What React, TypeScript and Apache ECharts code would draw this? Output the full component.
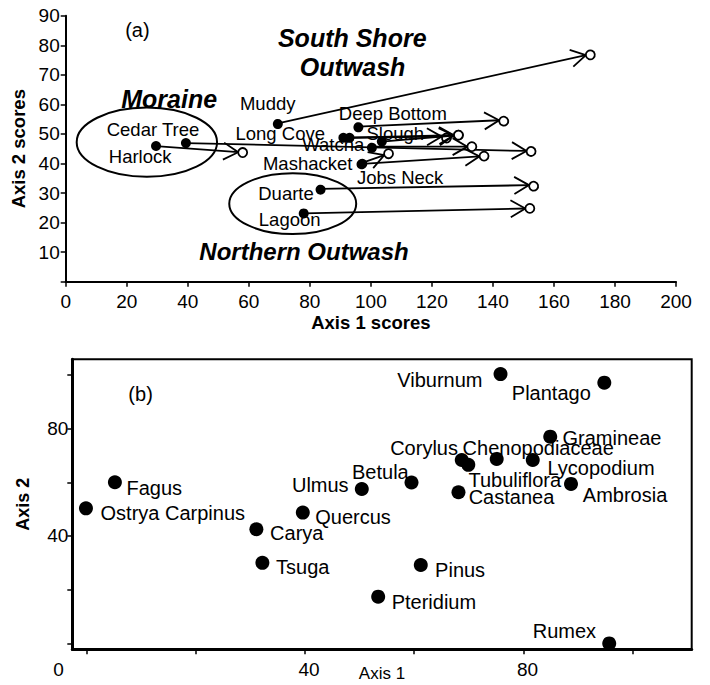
import React, { useEffect, useRef } from 'react';
import * as echarts from 'echarts';

// ---------- Panel (a): site trajectories (start = filled, end = open) ----------
const siteIds = ['Harlock', 'Cedar Tree', 'Muddy', 'Deep Bottom', 'Long Cove', 'Slough', 'Watcha', 'Watcha b', 'Mashacket', 'Jobs Neck', 'Duarte', 'Lagoon'];
const startX = [29.6, 39.4, 69.5, 95.9, 91.0, 93.0, 100.3, 103.6, 96.9, 97.2, 83.5, 78.0];
const startY = [45.9, 46.9, 53.6, 52.5, 48.7, 48.7, 45.7, 47.4, 40.1, 39.9, 31.4, 23.1];
const endX = [58.0, 152.5, 171.9, 143.5, 124.7, 128.7, 133.1, 128.7, 105.8, 137.1, 153.3, 152.1];
const endY = [43.7, 44.2, 77.0, 54.7, 49.1, 49.6, 45.7, 49.6, 43.3, 42.5, 32.7, 24.8];

const siteLabelText = ['Muddy', 'Cedar Tree', 'Harlock', 'Long Cove', 'Deep Bottom', 'Slough', 'Watcha', 'Mashacket', 'Jobs Neck', 'Duarte', 'Lagoon'];
const siteLabelX = [66.2, 28.6, 24.4, 70.3, 107.2, 108.0, 87.7, 79.3, 109.6, 72.2, 73.4];
const siteLabelY = [60.4, 51.4, 42.3, 50.2, 57.0, 50.2, 46.3, 40.1, 35.2, 29.7, 20.9];

const regionText = ['South Shore', 'Outwash', 'Moraine', 'Northern Outwash'];
const regionX = [93.9, 94.0, 33.9, 78.1];
const regionY = [82.6, 72.8, 61.8, 10.2];
const regionFontSize = [25, 25, 25, 24];

const ellipseCX = [26.6, 74.4];
const ellipseCY = [47.2, 26.4];
const ellipseRX = [23.0, 20.8];
const ellipseRY = [11.7, 10.3];

const xTicksA = { min: 0, max: 200, interval: 20 };
const yTicksA = { min: 0, max: 90, interval: 10 };

// ---------- Panel (b): taxa ordination ----------
const taxa = ['Fagus', 'Ostrya Carpinus', 'Ulmus', 'Betula', 'Quercus', 'Carya', 'Tsuga', 'Pinus', 'Pteridium', 'Rumex', 'Viburnum', 'Plantago', 'Gramineae', 'Corylus', 'Tubuliflora', 'Chenopodiaceae', 'Lycopodium', 'Castanea', 'Ambrosia'];
const axis1 = [5.2, -0.1, 50.4, 59.5, 39.6, 31.1, 32.2, 61.2, 53.4, 95.7, 75.8, 94.8, 84.9, 68.7, 69.9, 75.1, 81.7, 68.1, 88.7];
const axis2 = [60.0, 50.3, 57.5, 59.9, 48.7, 42.5, 30.0, 29.2, 17.4, 0.0, 100.3, 97.1, 77.0, 68.3, 66.5, 68.7, 68.3, 56.3, 59.4];
const taxaLabelX = [12.4, 15.8, 42.8, 53.8, 48.8, 38.5, 39.6, 68.4, 63.6, 87.5, 64.7, 85.1, 96.2, 61.8, 78.4, 82.7, 94.2, 77.8, 98.6];
const taxaLabelY = [57.8, 48.5, 59.0, 64.0, 47.2, 41.0, 28.6, 27.3, 15.5, 4.7, 98.1, 93.2, 76.4, 72.7, 60.9, 72.7, 65.2, 54.6, 55.3];

const xTickValuesB = [0, 20, 40, 60, 80, 100];
const xLabelValuesB = [0, 40, 80];
const yTickValuesB = [0, 20, 40, 60, 80, 100];
const yLabelValuesB = [40, 80];

const panelTags = ['(a)', '(b)'];
const panelTagX = [23.5, 9.9];
const panelTagY = [85.2, 92.8];

const FONT = '"Liberation Sans", Arial, Helvetica, sans-serif';

function buildOption(): any {
  const arrowData = siteIds.map((id, i) => ({ name: id, value: [startX[i], startY[i], endX[i], endY[i]] }));
  const ellipseData = ellipseCX.map((cx, i) => [cx, ellipseCY[i], ellipseRX[i], ellipseRY[i]]);
  const siteLabels = siteLabelText.map((t, i) => ({ name: t, value: [siteLabelX[i], siteLabelY[i]] }));
  const regionLabels = regionText.map((t, i) => ({
    name: t,
    value: [regionX[i], regionY[i]],
    label: { fontSize: regionFontSize[i] },
  }));
  const taxaPoints = taxa.map((t, i) => ({ name: t, value: [axis1[i], axis2[i]] }));
  const taxaLabels = taxa.map((t, i) => ({ name: t, value: [taxaLabelX[i], taxaLabelY[i]] }));

  const textLabel = (size: number, extra: any = {}) => ({
    show: true,
    position: 'inside',
    formatter: (p: any) => p.name,
    color: '#000',
    fontSize: size,
    fontFamily: FONT,
    ...extra,
  });

  const textSeries = (xi: number, data: any[], label: any, z = 2) => ({
    type: 'scatter',
    xAxisIndex: xi,
    yAxisIndex: xi,
    silent: true,
    z,
    symbolSize: 0,
    itemStyle: { opacity: 1, color: '#000' },
    emphasis: { disabled: true },
    data,
    label,
  });

  return {
    animation: false,
    backgroundColor: '#fff',
    textStyle: { fontFamily: FONT, color: '#000' },
    grid: [
      { left: 65.7, top: 15.7, width: 610.3, height: 266, outerBoundsMode: 'none', containLabel: false },
      {
        left: 72.3, top: 359.3, width: 619.4, height: 290, outerBoundsMode: 'none', containLabel: false,
        show: true, borderColor: '#000', borderWidth: 2, backgroundColor: 'transparent',
      },
    ],
    xAxis: [
      {
        gridIndex: 0,
        type: 'value',
        min: xTicksA.min,
        max: xTicksA.max,
        interval: xTicksA.interval,
        splitLine: { show: false },
        axisLine: { show: true, onZero: false, lineStyle: { color: '#000', width: 2 } },
        axisTick: { show: true, length: 5, lineStyle: { color: '#000', width: 1.5 } },
        axisLabel: { color: '#000', fontSize: 19, margin: 10, fontFamily: FONT },
        name: 'Axis 1 scores',
        nameLocation: 'middle',
        nameGap: 31,
        nameTextStyle: { color: '#000', fontSize: 18.5, fontWeight: 'bold', fontFamily: FONT },
      },
      {
        gridIndex: 1,
        type: 'value',
        min: -2.6,
        max: 110.8,
        splitLine: { show: false },
        axisLine: { show: true, onZero: false, lineStyle: { color: '#000', width: 3 } },
        axisTick: { show: true, length: 5, customValues: xTickValuesB, lineStyle: { color: '#000', width: 1.5 } },
        axisLabel: {
          show: true,
          customValues: xLabelValuesB,
          margin: 11,
          color: '#000',
          fontSize: 19,
          fontFamily: FONT,
          formatter: (v: number) => (v === 0 ? '{z|0}' : '{n|' + v + '}'),
          rich: {
            z: { color: '#000', fontSize: 19, fontFamily: FONT, padding: [0, 56, 0, 0] },
            n: { color: '#000', fontSize: 19, fontFamily: FONT, padding: [0, 0, 0, 8] },
          },
        },
        name: 'Axis 1',
        nameLocation: 'middle',
        nameGap: 15,
        nameMoveOverlap: false,
        nameTextStyle: { color: '#000', fontSize: 17, lineHeight: 18, fontFamily: FONT },
      },
    ],
    yAxis: [
      {
        gridIndex: 0,
        type: 'value',
        min: yTicksA.min,
        max: yTicksA.max,
        interval: yTicksA.interval,
        splitLine: { show: false },
        axisLine: { show: true, onZero: false, lineStyle: { color: '#000', width: 2 } },
        axisTick: { show: true, length: 5, lineStyle: { color: '#000', width: 1.5 } },
        axisLabel: { color: '#000', fontSize: 19, margin: 6, fontFamily: FONT, formatter: (v: number) => (v === 0 ? '' : String(v)) },
        name: 'Axis 2 scores',
        nameLocation: 'middle',
        nameGap: 31,
        nameTextStyle: { color: '#000', fontSize: 18.5, fontWeight: 'bold', fontFamily: FONT },
      },
      {
        gridIndex: 1,
        type: 'value',
        min: -2.2,
        max: 105.8,
        splitLine: { show: false },
        axisLine: { show: true, onZero: false, lineStyle: { color: '#000', width: 3 } },
        axisTick: { show: true, length: 5, customValues: yTickValuesB, lineStyle: { color: '#000', width: 1.5 } },
        axisLabel: {
          show: true,
          customValues: yLabelValuesB,
          margin: 4,
          color: '#000',
          fontSize: 19,
          fontFamily: FONT,
          padding: [19, 0, 0, 0],
        },
        name: 'Axis 2',
        nameLocation: 'middle',
        nameGap: 40,
        nameTextStyle: { color: '#000', fontSize: 18, fontWeight: 'bold', fontFamily: FONT },
      },
    ],
    series: [
      {
        type: 'custom',
        xAxisIndex: 0,
        yAxisIndex: 0,
        silent: true,
        z: 1,
        data: ellipseData,
        renderItem: (_p: any, api: any) => {
          const c = api.coord([api.value(0), api.value(1)]);
          const s = api.size([api.value(2), api.value(3)]);
          return {
            type: 'ellipse',
            shape: { cx: c[0], cy: c[1], rx: s[0], ry: s[1] },
            style: { fill: 'none', stroke: '#000', lineWidth: 2 },
          };
        },
      },
      {
        type: 'custom',
        xAxisIndex: 0,
        yAxisIndex: 0,
        silent: true,
        z: 3,
        data: arrowData,
        renderItem: (_p: any, api: any) => {
          const p1 = api.coord([api.value(0), api.value(1)]);
          const p2 = api.coord([api.value(2), api.value(3)]);
          const dx = p2[0] - p1[0];
          const dy = p2[1] - p1[1];
          const len = Math.hypot(dx, dy) || 1;
          const ux = dx / len;
          const uy = dy / len;
          const r = 4.5;
          const tip = [p2[0] - ux * r, p2[1] - uy * r];
          const L = 17;
          const a = Math.PI / 6;
          const bx = -ux;
          const by = -uy;
          const c = Math.cos(a);
          const s = Math.sin(a);
          const arm1 = [tip[0] + L * (bx * c - by * s), tip[1] + L * (bx * s + by * c)];
          const arm2 = [tip[0] + L * (bx * c + by * s), tip[1] + L * (-bx * s + by * c)];
          return {
            type: 'group',
            children: [
              { type: 'line', shape: { x1: p1[0], y1: p1[1], x2: tip[0], y2: tip[1] }, style: { stroke: '#000', lineWidth: 1.8 } },
              { type: 'polyline', shape: { points: [arm1, tip, arm2] }, style: { stroke: '#000', fill: 'none', lineWidth: 1.8 } },
              { type: 'circle', shape: { cx: p2[0], cy: p2[1], r }, style: { fill: '#fff', stroke: '#000', lineWidth: 1.8 } },
              { type: 'circle', shape: { cx: p1[0], cy: p1[1], r: 5 }, style: { fill: '#000' } },
            ],
          };
        },
      },
      textSeries(0, siteLabels, textLabel(18.5)),
      textSeries(0, regionLabels, textLabel(25, { fontWeight: 'bold', fontStyle: 'italic' })),
      textSeries(0, [{ name: panelTags[0], value: [panelTagX[0], panelTagY[0]] }], textLabel(20)),
      textSeries(1, [{ name: panelTags[1], value: [panelTagX[1], panelTagY[1]] }], textLabel(20)),
      {
        type: 'scatter',
        xAxisIndex: 1,
        yAxisIndex: 1,
        silent: true,
        symbol: 'circle',
        symbolSize: 14,
        itemStyle: { color: '#000', opacity: 1 },
        emphasis: { disabled: true },
        data: taxaPoints,
      },
      textSeries(1, taxaLabels, textLabel(20)),
    ],
  };
}

export default function App() {
  const ref = useRef<HTMLDivElement>(null);
  useEffect(() => {
    if (!ref.current) return;
    const chart = echarts.init(ref.current, null, { renderer: 'svg' });
    chart.setOption(buildOption());
    return () => chart.dispose();
  }, []);
  return (
    <div
      ref={ref}
      style={{ position: 'fixed', left: 0, top: 0, width: 710, height: 685, background: '#fff' }}
    />
  );
}
